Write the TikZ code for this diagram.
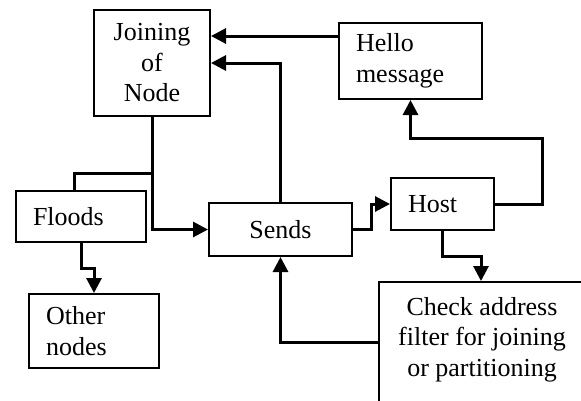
\documentclass[tikz,border=0pt]{standalone}
\usepackage{fontspec}
\setmainfont{Liberation Serif}
\usetikzlibrary{arrows.meta}

\tikzset{
  box/.style={draw, line width=2pt, inner sep=0pt, font=\fontsize{26}{30.5}\selectfont},
  ctr/.style={box, align=center},
  lft/.style={box, align=left, inner xsep=17pt},
  link/.style={line width=3pt},
  arr/.style={link, -{Triangle[length=15pt,width=15pt]}},
}

\begin{document}
\begin{tikzpicture}[x=1pt, y=-1pt]
  \useasboundingbox (0,0) rectangle (581,400);
  \clip (0,0) rectangle (581,400);

  % boxes
  \node[ctr, minimum width=116pt, minimum height=106pt] (join) at (152,63) {Joining\\of\\Node};
  \node[lft, text width=109pt, minimum height=76pt] (hello) at (410.5,61) {Hello\\message};
  \node[lft, text width=69pt, minimum height=52pt] (host) at (442.5,204) {Host};
  \node[ctr, minimum width=143pt, minimum height=53pt] (sends) at (280.5,229.5) {Sends};
  \node[lft, text width=96pt, minimum height=51pt] (floods) at (81,216.5) {Floods};
  \node[lft, text width=96pt, minimum height=74pt] (other) at (94,331) {Other\\nodes};
  \node[box, anchor=north west, minimum width=206pt, minimum height=150pt] (check) at (378,281) {};
  \node[align=center, anchor=north, inner sep=0pt, font=\fontsize{26}{30.5}\selectfont]
    (checktext) at ([yshift=-16pt]check.north) {Check address\\filter for joining\\or partitioning};

  % bend points
  \coordinate (hellorow) at (0,36);
  \coordinate (sendsup) at (0,63);
  \coordinate (fork) at (0,173);
  \coordinate (floodsin) at (74,0);
  \coordinate (floodsdrop) at (0,268);
  \coordinate (sendsjog) at (371,0);
  \coordinate (hostloop) at (542,138);
  \coordinate (hostdrop) at (481,256);
  \coordinate (checkrow) at (0,342);

  % connectors
  \draw[arr] (hello.west |- hellorow) -- (join.east |- hellorow);
  \draw[arr] (sends.north) |- (join.east |- sendsup);
  \draw[arr] (join.south) |- (sends.west);
  \draw[link] (join.south |- fork) -| (floodsin |- floods.north);
  \draw[arr] (floods.south) -- (floods.south |- floodsdrop) -| (other.north);
  \draw[arr] (sends.east) -- (sends.east -| sendsjog) |- (host.west);
  \draw[arr] (host.east) -| (hostloop) -| (hello.south);
  \draw[arr] (host.south) |- (hostdrop) -- (hostdrop |- check.north);
  \draw[arr] (check.west |- checkrow) -| (sends.south);
\end{tikzpicture}
\end{document}
